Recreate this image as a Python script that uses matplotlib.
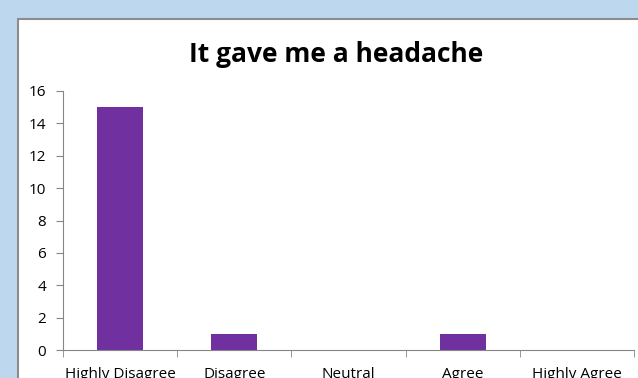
import matplotlib
matplotlib.use("Agg")
import matplotlib.pyplot as plt
from matplotlib.patches import Rectangle

categories = ["Highly Disagree", "Disagree", "Neutral", "Agree", "Highly Agree"]
counts = [15, 1, 0, 1, 0]
title = "It gave me a headache"

W, H = 638, 378
plt.rcParams['font.family'] = ['Open Sans', 'DejaVu Sans']

fig = plt.figure(figsize=(W / 100, H / 100), dpi=100)
fig.patch.set_facecolor('#BDD7EE')

# white chart area with grey border, cut off at right/bottom
fig.patches.append(Rectangle((18 / W, -0.05), 1.1, (H - 19) / H + 0.05,
                             transform=fig.transFigure, facecolor='white',
                             edgecolor='#8C8C8C', linewidth=1.5, zorder=-1))

ax = fig.add_axes([63 / W, (H - 350) / H, (634 - 63) / W, (350 - 91) / H])
ax.set_facecolor('none')
x = range(len(categories))
ax.bar(x, counts, width=0.4, color='#7030A0', zorder=2)

ax.set_xlim(-0.5, len(categories) - 0.5)
ax.set_ylim(0, 16)
ax.set_yticks(range(0, 17, 2))
ax.set_xticks(list(x))
ax.set_xticklabels(categories)
ax.set_xticks([i - 0.5 for i in range(len(categories) + 1)], minor=True)
ax.tick_params(axis='x', which='major', length=0, pad=12, labelsize=11)
ax.tick_params(axis='x', which='minor', length=5, color='#868686', direction='out')
ax.tick_params(axis='y', length=5, color='#868686', pad=7, labelsize=11)

for s in ['top', 'right']:
    ax.spines[s].set_visible(False)
for s in ['left', 'bottom']:
    ax.spines[s].set_color('#868686')

fig.text(336 / W, 1 - 54 / H, title, ha='center', va='center',
         fontsize=19, fontweight='bold')

fig.savefig('out.png', dpi=100, facecolor=fig.get_facecolor())
